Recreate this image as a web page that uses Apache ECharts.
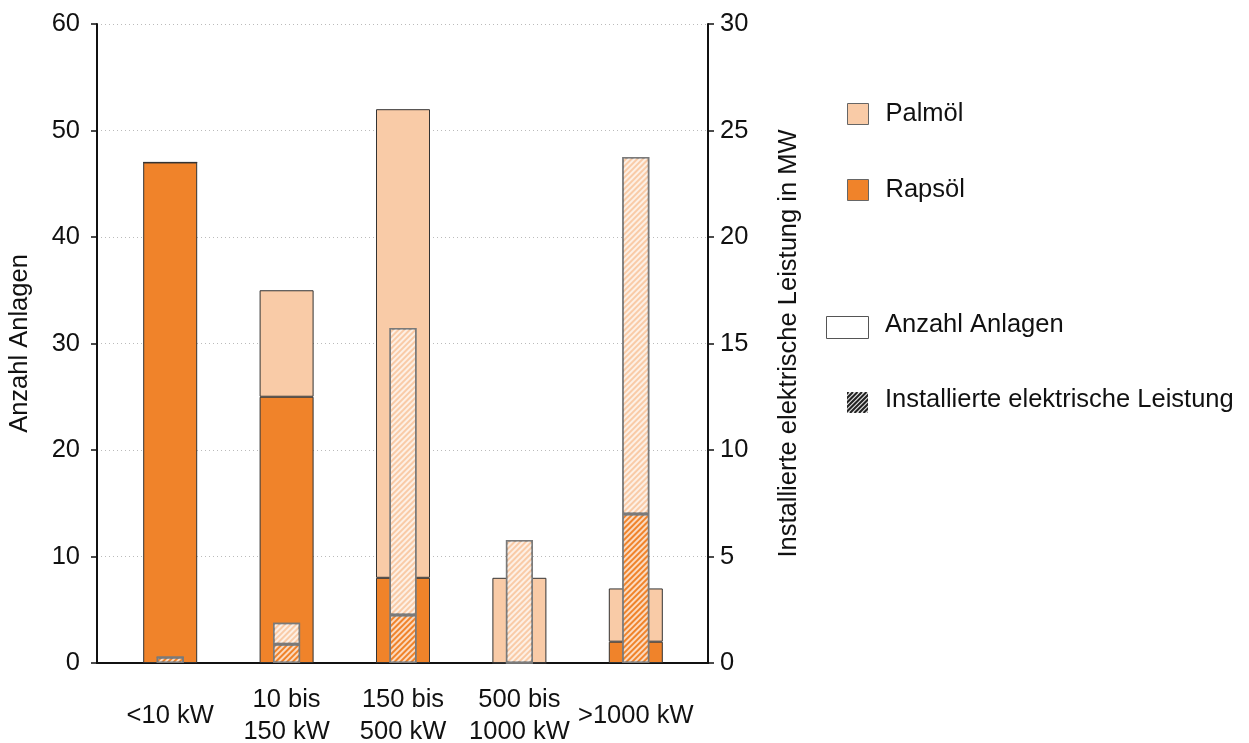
<!DOCTYPE html>
<html><head><meta charset="utf-8">
<script src="https://cdn.jsdelivr.net/npm/echarts@6/dist/echarts.min.js"></script>
<style>html,body{margin:0;padding:0;background:#fff}#c{width:1249px;height:743px}</style>
</head><body><div id="c"></div>
<script>
// ---- data ----
const categories = ['<10 kW', '10 bis\n150 kW', '150 bis\n500 kW', '500 bis\n1000 kW', '>1000 kW'];
const countRaps = [47, 25, 8, 0, 2];      // Anzahl Anlagen, Rapsöl
const countPalm = [0, 10, 44, 8, 5];      // Anzahl Anlagen, Palmöl
const mwRaps = [0.27, 0.88, 2.25, 0, 7.0];     // MW, Rapsöl
const mwPalm = [0, 1.01, 13.48, 5.77, 16.76];  // MW, Palmöl
const leftAxis = { min: 0, max: 60, interval: 10 };
const rightAxis = { min: 0, max: 30, interval: 5 };
const legendNames = ['Palmöl', 'Rapsöl', 'Anzahl Anlagen', 'Installierte elektrische Leistung'];

const FONT = "'Liberation Sans', Arial, sans-serif";
const FS = 25.5;
const RAPS = '#F0832A';
const PALM = '#F9CBA7';

function hatchCanvas() {
  const c = document.createElement('canvas');
  c.width = 21; c.height = 21;
  const g = c.getContext('2d');
  g.fillStyle = '#e8e8e8'; g.fillRect(0, 0, 21, 21);
  g.strokeStyle = '#222'; g.lineWidth = 2;
  for (let k = -24; k < 45; k += 4.5) {
    g.beginPath(); g.moveTo(k, 21); g.lineTo(k + 21, 0); g.stroke();
  }
  return c;
}

const decal = {
  symbol: 'rect', symbolSize: 1,
  dashArrayX: [1, 0], dashArrayY: [2, 2],
  rotation: -Math.PI / 4,
  color: 'rgba(255,255,255,0.7)'
};

const chart = echarts.init(document.getElementById('c'), null, { renderer: 'canvas' });
chart.setOption({
  animation: false,
  textStyle: { fontFamily: FONT, color: '#111' },
  grid: [
    { left: 112, right: 555, top: 24, bottom: 80, outerBoundsMode: 'none', containLabel: false },
    { left: 97, right: 541, top: 24, bottom: 80, outerBoundsMode: 'none', containLabel: false }
  ],
  xAxis: [
    { type: 'category', gridIndex: 0, data: categories,
      axisLine: { show: false }, axisTick: { show: false },
      axisLabel: { fontSize: FS, fontFamily: FONT, color: '#111', verticalAlign: 'middle', margin: 53, lineHeight: 32, interval: 0 } },
    { type: 'category', gridIndex: 0, data: categories, show: false },
    { type: 'value', gridIndex: 1, min: 0, max: 1, axisLine: { show: true, lineStyle: { color: '#111', width: 2 } },
      axisTick: { show: false }, axisLabel: { show: false }, splitLine: { show: false } }
  ],
  yAxis: [
    { type: 'value', gridIndex: 0, min: leftAxis.min, max: leftAxis.max, interval: leftAxis.interval, show: false, splitLine: { show: false } },
    { type: 'value', gridIndex: 0, min: rightAxis.min, max: rightAxis.max, interval: rightAxis.interval, show: false, position: 'right', splitLine: { show: false } },
    { type: 'value', gridIndex: 1, min: leftAxis.min, max: leftAxis.max, interval: leftAxis.interval, position: 'left',
      name: 'Anzahl Anlagen', nameLocation: 'middle', nameGap: 64,
      nameTextStyle: { fontSize: FS, fontFamily: FONT, color: '#111' },
      axisLine: { show: true, lineStyle: { color: '#111', width: 2 } },
      axisTick: { show: true, length: 6, lineStyle: { color: '#111', width: 1.5 } },
      axisLabel: { fontSize: FS, fontFamily: FONT, color: '#111', margin: 17 },
      splitLine: { show: true, lineStyle: { color: '#bbb', type: [1, 3], width: 1 } } },
    { type: 'value', gridIndex: 1, min: rightAxis.min, max: rightAxis.max, interval: rightAxis.interval, position: 'right',
      name: 'Installierte elektrische Leistung in MW', nameLocation: 'middle', nameGap: 68,
      nameTextStyle: { fontSize: FS, fontFamily: FONT, color: '#111' },
      axisLine: { show: true, lineStyle: { color: '#111', width: 2 } },
      axisTick: { show: true, length: 6, lineStyle: { color: '#111', width: 1.5 } },
      axisLabel: { fontSize: FS, fontFamily: FONT, color: '#111', margin: 12 },
      splitLine: { show: false } }
  ],
  legend: {
    orient: 'vertical', left: 847, top: 101, padding: 0, itemWidth: 21, itemHeight: 21, itemGap: 50,
    selectedMode: false, icon: 'rect',
    data: [legendNames[0], legendNames[1]],
    itemStyle: { borderColor: '#666', borderWidth: 1 },
    textStyle: { fontSize: FS, fontFamily: FONT, color: '#111', padding: [0, 0, 0, 12] }
  },
  graphic: [
    { type: 'rect', left: 826, top: 316, shape: { width: 42, height: 22 }, style: { fill: '#fff', stroke: '#555', lineWidth: 1 } },
    { type: 'text', left: 885, top: 327 - FS * 0.58, style: { text: legendNames[2], font: FS + 'px ' + FONT, fill: '#111' } },
    { type: 'image', left: 847, top: 392, style: { image: hatchCanvas(), width: 21, height: 21 } },
    { type: 'text', left: 885, top: 402 - FS * 0.58, style: { text: legendNames[3], font: FS + 'px ' + FONT, fill: '#111' } }
  ],
  series: [
    { name: 'Rapsöl', type: 'bar', xAxisIndex: 0, yAxisIndex: 0, stack: 'count', barWidth: 54, data: countRaps,
      itemStyle: { color: RAPS, borderColor: '#333', borderWidth: 1 }, z: 2 },
    { name: 'Palmöl', type: 'bar', xAxisIndex: 0, yAxisIndex: 0, stack: 'count', barWidth: 54, data: countPalm,
      itemStyle: { color: PALM, borderColor: '#333', borderWidth: 1 }, z: 2 },
    { name: 'Rapsöl MW', type: 'bar', xAxisIndex: 1, yAxisIndex: 1, stack: 'mw', barWidth: 27, data: mwRaps,
      itemStyle: { color: RAPS, borderColor: '#7a7a7a', borderWidth: 1.5, decal: decal }, z: 3 },
    { name: 'Palmöl MW', type: 'bar', xAxisIndex: 1, yAxisIndex: 1, stack: 'mw', barWidth: 27, data: mwPalm,
      itemStyle: { color: PALM, borderColor: '#7a7a7a', borderWidth: 1.5, decal: decal }, z: 3 }
  ]
});
</script>
</body></html>
